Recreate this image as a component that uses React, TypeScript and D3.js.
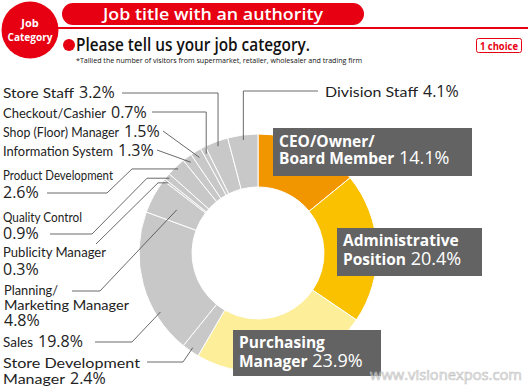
import React from 'react';
import * as d3 from 'd3';

// job categories, clockwise from 12 o'clock
const categories = [
    'CEO/Owner/Board Member',
    'Administrative Position',
    'Purchasing Manager',
    'Store Development Manager',
    'Sales',
    'Planning/Marketing Manager',
    'Publicity Manager',
    'Quality Control',
    'Product Development',
    'Information System',
    'Shop (Floor) Manager',
    'Checkout/Cashier',
    'Store Staff',
    'Division Staff'
];
const shares = [14.1, 20.4, 23.9, 2.4, 19.8, 4.8, 0.3, 0.9, 2.6, 1.3, 1.5, 0.7, 3.2, 4.1];
const highlight = ['#F29600', '#FAC100', '#FDEF9A'];

const W = 528;
const H = 389;
const cx = 258;
const cy = 253;
const outerR = 119;
const innerR = 66;
const RED = '#E60012';
const FONT = "'Open Sans', 'DejaVu Sans', sans-serif";
const NAME_FONT = "Lato, 'Open Sans', sans-serif";

// dark boxes for the three big slices
const boxes = [
    {x: 273, y: 128, w: 199, h: 48, lines: ['CEO/Owner/', 'Board Member'], base: 147, lh: 17},
    {x: 337, y: 228, w: 145, h: 48, lines: ['Administrative', 'Position'], base: 246, lh: 19},
    {x: 233, y: 330, w: 148, h: 46, lines: ['Purchasing', 'Manager'], base: 348, lh: 19}
];

// outside labels: text lines (+ their widths), leader start / elbows, where the leader ends in the slice
const callouts = [
    {i: 3, lines: ['Store Development', 'Manager'], widths: [137, 62], x: 3, y: 368, lh: 15.5, pts: [[147, 362], [183, 362]], at: 0.5, r: 115},
    {i: 4, lines: ['Sales'], widths: [30], x: 3, y: 347, lh: 16, pts: [[95, 342], [132, 342]], at: 0.28, r: 114},
    {i: 5, lines: ['Planning/', 'Marketing Manager', ''], widths: [54, 125], x: 4, y: 294.5, lh: 15.5, pts: [[72, 291], [100, 291]], at: 0.45, r: 92},
    {i: 6, lines: ['Publicity Manager', ''], widths: [103], x: 3, y: 257, lh: 17.5, pts: [[96, 244]], elbowY: 158, at: 0.5, r: 114},
    {i: 7, lines: ['Quality Control', ''], widths: [79], x: 3, y: 222, lh: 17, pts: [[50, 234], [92, 234]], elbowY: 147, at: 0.5, r: 116},
    {i: 8, lines: ['Product Development', ''], widths: [110], x: 3, y: 180, lh: 17.5, pts: [[47, 193], [107, 193]], elbowY: 132, at: 0.5, r: 116},
    {i: 9, lines: ['Information System'], widths: [110], x: 3, y: 156, lh: 16, pts: [[157, 150]], at: 0.5, r: 113},
    {i: 10, lines: ['Shop (Floor) Manager'], widths: [116], x: 3, y: 137, lh: 16, pts: [[163, 131]], at: 0.5, r: 112},
    {i: 11, lines: ['Checkout/Cashier'], widths: [103], x: 3, y: 117.5, lh: 16, pts: [[152, 112]], hv: true, at: 0.5, r: 112},
    {i: 12, lines: ['Store Staff'], widths: [71], x: 3, y: 98, lh: 16, pts: [[122, 93]], hv: true, at: 0.5, r: 114},
    {i: 13, lines: ['Division Staff'], widths: [93], x: 325, y: 97, lh: 16, pts: [[318, 91]], hv: true, at: 0.5, r: 114}
];

const pct = (v) => v.toFixed(1) + '%';

function App() {
    const pie = d3
        .pie()
        .sort(null)
        .value((d) => d);
    const arcs = pie(shares);
    const arc = d3
        .arc()
        .innerRadius(innerR)
        .outerRadius(outerR);

    const anchor = (k, at, r) => {
        const a = arcs[k].startAngle + (arcs[k].endAngle - arcs[k].startAngle) * at;
        return [cx + r * Math.sin(a), cy - r * Math.cos(a)];
    };

    const line = d3.line();

    return (
        <div style={{position: 'absolute', left: 0, top: 0}}>
            <svg width={W} height={H} style={{display: 'block', background: '#fff'}}>
                {/* header */}
                <line x1={58} x2={W} y1={28} y2={28} stroke={RED} strokeWidth={2}/>
                <rect x={62} y={3} width={302} height={22} rx={11} fill={RED}/>
                <text x={213} y={20} textAnchor="middle" fill="#fff" fontFamily={FONT} fontWeight={600} fontSize={17}
                    textLength={220} lengthAdjust="spacingAndGlyphs">Job title with an authority</text>
                <circle cx={30} cy={30} r={28.5} fill={RED}/>
                <text x={30} y={27} textAnchor="middle" fill="#fff" fontFamily={FONT} fontWeight={700} fontSize={11}>Job</text>
                <text x={30} y={41} textAnchor="middle" fill="#fff" fontFamily={FONT} fontWeight={700} fontSize={10.5}
                    textLength={45} lengthAdjust="spacingAndGlyphs">Category</text>
                <circle cx={69} cy={45} r={6} fill={RED}/>
                <text x={76} y={51} fill="#111" fontFamily={FONT} fontWeight={600} fontSize={17.5}
                    textLength={234} lengthAdjust="spacingAndGlyphs">Please tell us your job category.</text>
                <text x={76} y={62.5} fill="#111" fontFamily={FONT} fontSize={8}
                    textLength={286} lengthAdjust="spacingAndGlyphs">*Tallied the number of visitors from supermarket, retailer, wholesaler and trading firm</text>
                <rect x={476.5} y={38.5} width={45} height={14} rx={2} fill="#fff" stroke={RED} strokeWidth={1}/>
                <text x={499} y={49.5} textAnchor="middle" fill={RED} fontFamily={FONT} fontWeight={700} fontSize={10.5}
                    textLength={38} lengthAdjust="spacingAndGlyphs">1 choice</text>

                {/* donut */}
                <g transform={`translate(${cx},${cy})`}>
                    {arcs.map((d, k) => (
                        <path key={k} d={arc(d)} fill={k < 3 ? highlight[k] : '#C8C8C8'} stroke="#fff" strokeWidth={1}/>
                    ))}
                </g>

                {/* leader lines */}
                {callouts.map((c) => {
                    const end = anchor(c.i, c.at, c.r);
                    let pts = c.pts.slice();
                    if (c.hv) {
                        pts = [...pts, [end[0], pts[0][1]]];
                    }
                    if (c.elbowY !== undefined) {
                        pts = [...pts, [c.elbowY, end[1]]];
                    }
                    pts.push(end);
                    return <path key={'l' + c.i} d={line(pts)} fill="none" stroke="#444" strokeWidth={0.8}/>;
                })}

                {/* outside labels: names, then the share on the last line */}
                {callouts.map((c) => {
                    const last = c.lines.length - 1;
                    const lastW = c.lines[last] ? c.widths[last] + 5 : 0;
                    return (
                        <g key={'t' + c.i} fill="#222">
                            {c.lines.map((s, j) => s ? (
                                <text key={j} x={c.x} y={c.y + j * c.lh} fontFamily={NAME_FONT} fontSize={14}
                                    textLength={c.widths[j]} lengthAdjust="spacingAndGlyphs">{s}</text>
                            ) : null)}
                            <text x={c.x + lastW} y={c.y + last * c.lh} fontFamily={FONT} fontSize={16}>
                                {pct(shares[c.i])}
                            </text>
                        </g>
                    );
                })}

                {/* boxed labels */}
                {boxes.map((b, k) => (
                    <g key={'b' + k}>
                        <rect x={b.x} y={b.y} width={b.w} height={b.h} fill="#636363"/>
                        {b.lines.map((s, j) => (
                            <text key={j} x={b.x + 6} y={b.base + j * b.lh} fill="#fff" fontFamily={FONT}>
                                <tspan fontSize={15.5} fontWeight={700}>{s}</tspan>
                                {j === b.lines.length - 1 ? (
                                    <tspan fontSize={18}>{' ' + pct(shares[k])}</tspan>
                                ) : null}
                            </text>
                        ))}
                    </g>
                ))}

                <text x={370} y={380} fill="none" stroke="#c4c4c4" strokeWidth={0.7}
                    fontFamily={FONT} fontSize={15} textLength={152} lengthAdjust="spacingAndGlyphs">www.visionexpos.com</text>
            </svg>
        </div>
    );
}

export default App;
